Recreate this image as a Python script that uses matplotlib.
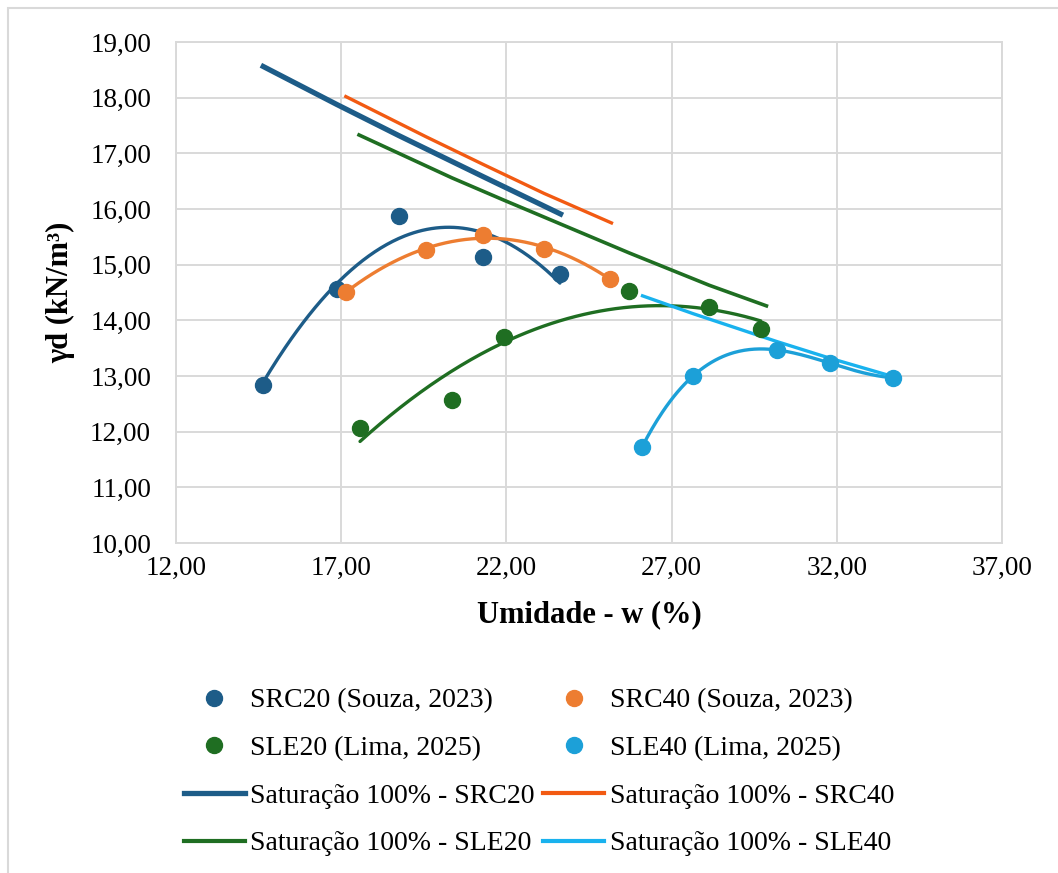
import numpy as np
import matplotlib
matplotlib.use("Agg")
import matplotlib.pyplot as plt
from matplotlib.lines import Line2D
from matplotlib.patches import Rectangle
from matplotlib.ticker import FuncFormatter, MultipleLocator

plt.rcParams['font.family'] = ['Liberation Serif', 'DejaVu Serif']

# Compaction points: moisture content w (%) and dry unit weight (kN/m3)
w_src20 = [14.63, 16.86, 18.74, 21.30, 23.62]
gd_src20 = [12.84, 14.57, 15.87, 15.14, 14.83]

w_src40 = [17.14, 19.56, 21.30, 23.14, 25.13]
gd_src40 = [14.51, 15.26, 15.53, 15.28, 14.75]

w_sle20 = [17.57, 20.35, 21.92, 25.72, 28.14, 29.70]
gd_sle20 = [12.06, 12.57, 13.70, 14.53, 14.24, 13.84]

w_sle40 = [26.11, 27.65, 30.18, 31.79, 33.70]
gd_sle40 = [11.73, 13.00, 13.47, 13.23, 12.97]

# 100 % saturation curves
sat_w_src20 = [14.64, 16.86, 18.74, 21.30, 23.64]
sat_gd_src20 = [18.56, 17.88, 17.32, 16.58, 15.91]

sat_w_src40 = [17.14, 19.56, 21.30, 23.14, 25.18]
sat_gd_src40 = [18.02, 17.30, 16.80, 16.28, 15.75]

sat_w_sle20 = [17.54, 20.35, 21.92, 25.72, 28.14, 29.87]
sat_gd_sle20 = [17.33, 16.56, 16.16, 15.21, 14.63, 14.26]

sat_w_sle40 = [26.12, 27.65, 30.18, 31.79, 33.70]
sat_gd_sle40 = [14.44, 14.12, 13.62, 13.32, 12.99]

x_ticks = [12, 17, 22, 27, 32, 37]

labels_pts = ["SRC20 (Souza, 2023)", "SRC40 (Souza, 2023)",
              "SLE20 (Lima, 2025)", "SLE40 (Lima, 2025)"]
labels_sat = ["Saturação 100% - SRC20", "Saturação 100% - SRC40",
              "Saturação 100% - SLE20", "Saturação 100% - SLE40"]

c_src20 = "#1d5c88"
c_src40 = "#ed7d31"
c_sle20 = "#1f6e22"
c_sle40 = "#1ca0d8"
c_sat_src40 = "#f25a12"
c_sat_sle40 = "#19b2ee"

fig = plt.figure(figsize=(10.58, 8.73), dpi=100)
ax = fig.add_axes([176 / 1058, 1 - 543 / 873, 826 / 1058, 501 / 873])

# Figure frame
fig.patches.append(Rectangle((8 / 1058, -0.05), 1.2, 1 - 8 / 873 + 0.05,
                             transform=fig.transFigure, fill=False,
                             edgecolor="#d9d9d9", lw=1.5))


def trend(ax, w, g, deg, color):
    coef = np.polyfit(w, g, deg)
    xs = np.linspace(min(w), max(w), 200)
    ax.plot(xs, np.polyval(coef, xs), color=color, lw=2.4, zorder=3,
            solid_capstyle="round")


ms = 11.5
ax.plot(w_src20, gd_src20, "o", color=c_src20, ms=ms, zorder=4)
trend(ax, w_src20, gd_src20, 2, c_src20)
ax.plot(w_src40, gd_src40, "o", color=c_src40, ms=ms, zorder=4)
trend(ax, w_src40, gd_src40, 2, c_src40)
ax.plot(w_sle20, gd_sle20, "o", color=c_sle20, ms=ms, zorder=4)
trend(ax, w_sle20, gd_sle20, 2, c_sle20)
ax.plot(w_sle40, gd_sle40, "o", color=c_sle40, ms=ms, zorder=4)
trend(ax, w_sle40, gd_sle40, 3, c_sle40)

ax.plot(sat_w_src20, sat_gd_src20, color=c_src20, lw=3.8, zorder=3)
ax.plot(sat_w_src40, sat_gd_src40, color=c_sat_src40, lw=2.4, zorder=3)
ax.plot(sat_w_sle20, sat_gd_sle20, color=c_sle20, lw=2.6, zorder=3)
ax.plot(sat_w_sle40, sat_gd_sle40, color=c_sat_sle40, lw=2.4, zorder=3)

ax.set_xlim(12, 37)
ax.set_ylim(10, 19)
ax.set_xticks(x_ticks)
ax.yaxis.set_major_locator(MultipleLocator(1))
fmt = FuncFormatter(lambda v, p: f"{v:.2f}".replace(".", ","))
ax.xaxis.set_major_formatter(fmt)
ax.yaxis.set_major_formatter(fmt)
ax.grid(True, color="#d9d9d9", lw=1.4)
ax.set_axisbelow(True)
for s in ax.spines.values():
    s.set_color("#d9d9d9")
    s.set_linewidth(1.4)
ax.tick_params(length=0, labelsize=19.5, colors="#000000")
ax.tick_params(axis="y", pad=18)
ax.tick_params(axis="x", pad=9)

ax.set_xlabel("Umidade - w (%)", fontsize=22, fontweight="bold")
ax.xaxis.set_label_coords(0.5, -0.115)
ax.set_ylabel("γd (kN/m³)", fontsize=22, fontweight="bold")
ax.yaxis.set_label_coords(-0.122, 0.5)

# Legend: two columns filled row by row
pt_handles = [Line2D([], [], ls="none", marker="o", ms=ms, color=c)
              for c in (c_src20, c_src40, c_sle20, c_sle40)]
sat_handles = [Line2D([], [], color=c_src20, lw=3.8),
               Line2D([], [], color=c_sat_src40, lw=3.0),
               Line2D([], [], color=c_sle20, lw=3.0),
               Line2D([], [], color=c_sat_sle40, lw=3.0)]
order = [0, 2, 4, 6, 1, 3, 5, 7]
all_h = pt_handles + sat_handles
all_l = labels_pts + labels_sat
fig.legend([all_h[i] for i in order], [all_l[i] for i in order],
           ncol=2, loc="upper center", bbox_to_anchor=(539 / 1058, 1 - 674 / 873),
           frameon=False, fontsize=20, handlelength=2.2, handletextpad=0.2,
           columnspacing=0.3, labelspacing=0.8, borderpad=0)

fig.savefig("out.png", dpi=100)
